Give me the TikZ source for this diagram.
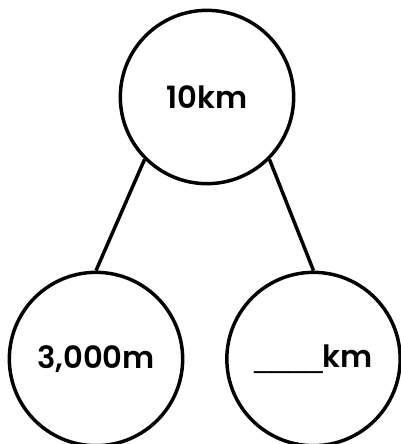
\documentclass[tikz,border=0pt]{standalone}
\usepackage{fontspec}
\setmainfont{Poppins}[BoldFont={* SemiBold}]
\newfontfamily\blankfont{Liberation Sans}
\usetikzlibrary{positioning}

\begin{document}
\begin{tikzpicture}[
x = 0.75pt, y = -0.75pt,
every node/.style = {
	font = \fontsize{23}{26}\selectfont\bfseries
},
bubble/.style = {
	draw,
	circle,
	line width = 2.6pt,
	minimum size = 130pt,
	inner sep = 0pt
},
branch/.style = {
	line width = 2.6pt
}
]
\useasboundingbox (0,0) rectangle (401,444);

\node[bubble]	(whole) 	at (207,97) 	{10km};
\node[bubble]	(partm) 	at (96,359) 	{3,000m};
\node[bubble]	(partkm) 	at (313.5,359) 	{{\blankfont\mdseries\_\_\_\_}km};

\draw[branch] (whole.225) -- (partm.north);
\draw[branch] (whole.-45) -- (partkm.north);
\end{tikzpicture}
\end{document}
